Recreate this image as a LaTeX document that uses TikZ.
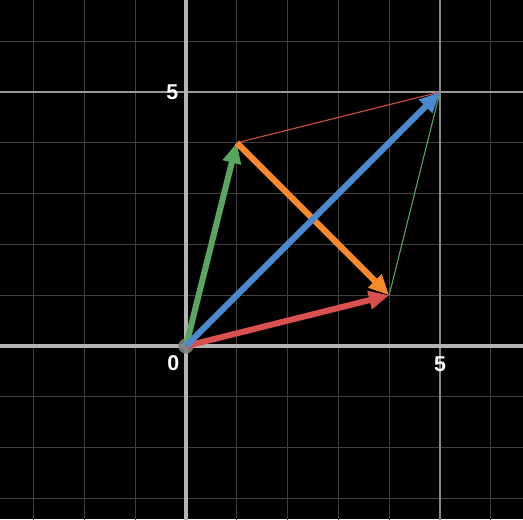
\documentclass[tikz,border=0pt]{standalone}
\usepackage{fontspec}
\setmainfont{Liberation Sans}
\usetikzlibrary{arrows.meta}
\definecolor{gridc}{HTML}{404040}
\definecolor{majc}{HTML}{9A9A9A}
\definecolor{axc}{HTML}{B4B4B4}
\definecolor{vgreen}{HTML}{5AA660}
\definecolor{vred}{HTML}{D9504E}
\definecolor{vblue}{HTML}{4A88CF}
\definecolor{vorange}{HTML}{F7892A}
\tikzset{
  vec/.style={line width=3.4pt, -{Triangle[length=0.4cm,width=0.35cm]}},
  thin line/.style={line width=0.6pt},
  lbl/.style={font=\fontsize{12}{14}\selectfont\bfseries, text=white, inner sep=1pt}
}
\begin{document}
\begin{tikzpicture}
\fill[black] (-3.661,-3.406) rectangle (6.634,6.811);
\useasboundingbox (-3.661,-3.406) rectangle (6.634,6.811);
\begin{scope}
\clip (-3.661,-3.406) rectangle (6.634,6.811);
\draw[gridc, line width=0.7pt] (-4,-4) grid (7,7);
\draw[majc, line width=0.7pt] (-4,5) -- (7,5);
\draw[majc!80!gridc, line width=0.7pt] (5,-4) -- (5,7);
\draw[axc, line width=2.2pt] (-4,0) -- (7,0);
\draw[axc, line width=2.2pt] (0,-4) -- (0,7);
\end{scope}
\coordinate (O) at (0,0);
\coordinate (A) at (1,4);
\coordinate (B) at (4,1);
\coordinate (C) at (5,5);
\draw[thin line, vred] (A) -- (C);
\draw[thin line, vgreen] (B) -- (C);
\fill[gray, opacity=0.9] (O) circle (0.15);
\draw[vec, vgreen] (O) -- (A);
\draw[vec, vred] (O) -- (B);
\draw[vec, vorange] (A) -- (B);
\draw[vec, vblue] (O) -- (C);
\node[lbl] (l0) at (-0.25,-0.33) {0};
\node[lbl] (l5x) at (5,-0.35) {5};
\node[lbl] (l5y) at (-0.27,5) {5};
\end{tikzpicture}
\end{document}
